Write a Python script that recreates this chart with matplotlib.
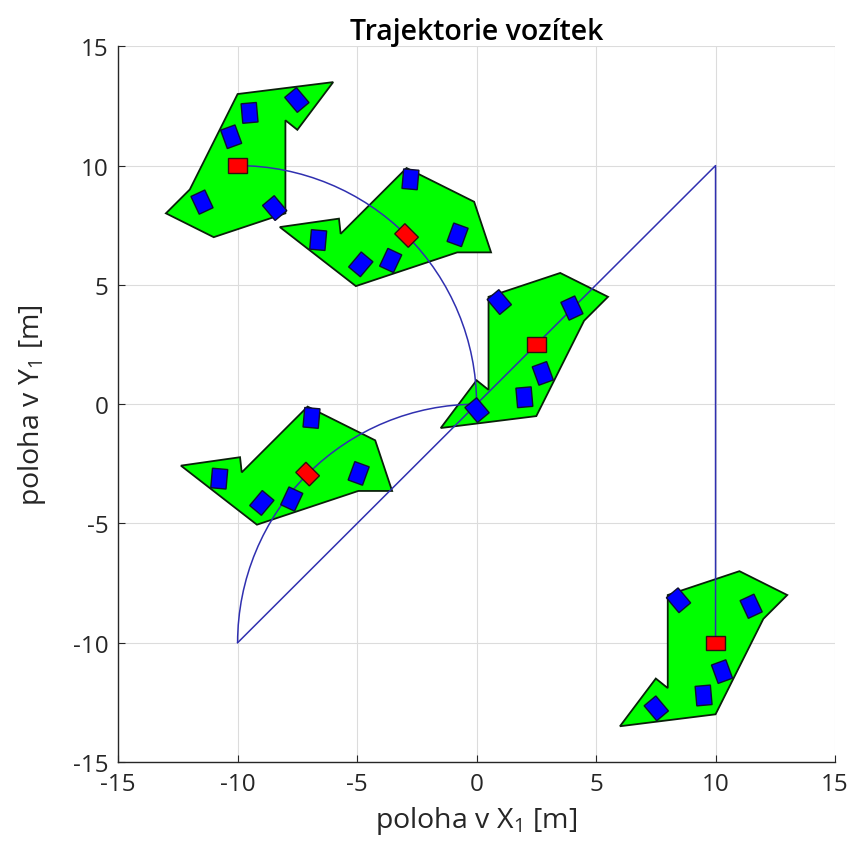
import numpy as np
import matplotlib.pyplot as plt
from matplotlib.patches import Polygon, Rectangle, Arc
from matplotlib.transforms import Affine2D

plt.rcParams['font.family'] = ['Open Sans', 'DejaVu Sans']
plt.rcParams['axes.unicode_minus'] = False
plt.rcParams['mathtext.default'] = 'regular'

# vehicle outline in its own frame [m]
body_x = [-2.0, 1.0, 3.0, 2.0, 0.0, -4.0, -2.5, -2.0]
body_y = [2.0, 3.0, 2.0, 1.0, -3.0, -3.5, -1.5, -1.9]

# wheels in vehicle frame + their own turn [deg]
wheel_x = [-1.55, 1.49, 0.27, -0.5, -2.48]
wheel_y = [1.78, 1.53, -1.21, -2.21, -2.75]
wheel_ang = [40, 25, 20, 5, 40]

# drawn poses
pose_x = [-10.0, -2.93, 2.5, -7.07, 10.0]
pose_y = [10.0, 7.07, 2.5, -2.93, -10.0]
pose_ang = [180, -45, 0, -45, 0]

# trajectory: straight part and two quarter circles
path_x = [-10, 10, 10]
path_y = [-10, 10, -10]
arc_cx = [-10, 0]
arc_cy = [0, -10]
arc_r = [10, 10]
arc_from = [0, 90]
arc_to = [90, 180]

ticks = [-15, -10, -5, 0, 5, 10, 15]
tick_labels = ['-15', '-10', '-5', '0', '5', '10', '15']

fig = plt.figure(figsize=(8.56, 8.45), dpi=100)
ax = fig.add_axes([0.138, 0.097, 0.8375, 0.847])

line_col = '#3030b0'
ax.plot(path_x, path_y, color=line_col, lw=1.1, zorder=3)
for cx, cy, r, t1, t2 in zip(arc_cx, arc_cy, arc_r, arc_from, arc_to):
    ax.add_patch(Arc((cx, cy), 2 * r, 2 * r, theta1=t1, theta2=t2,
                     color=line_col, lw=1.1, zorder=3))

ww, wh = 0.64, 0.82  # wheel size
cw, ch = 0.8, 0.6    # centre marker size
for px, py, pa in zip(pose_x, pose_y, pose_ang):
    tr = Affine2D().rotate_deg(pa).translate(px, py) + ax.transData
    ax.add_patch(Polygon(np.column_stack([body_x, body_y]), closed=True,
                         facecolor='#00ff00', edgecolor='#0a200a', lw=1.3,
                         transform=tr, zorder=2))
    for wx, wy, wa in zip(wheel_x, wheel_y, wheel_ang):
        ax.add_patch(Rectangle((wx - ww / 2, wy - wh / 2), ww, wh, angle=wa,
                               rotation_point='center', facecolor='#0000ff',
                               edgecolor='#101030', lw=1.0, transform=tr, zorder=4))
    ax.add_patch(Rectangle((-cw / 2, -ch / 2), cw, ch, facecolor='#ff0000',
                           edgecolor='#301010', lw=1.0, transform=tr, zorder=4))

ax.set_xlim(-15, 15)
ax.set_ylim(-15, 15)
ax.set_xticks(ticks)
ax.set_xticklabels(tick_labels)
ax.set_yticks(ticks)
ax.set_yticklabels(tick_labels)
ax.tick_params(direction='in', length=5, width=0.8, labelsize=17.5, pad=7,
               colors='#262626', labelcolor='#262626')
ax.grid(True, color='#dcdcdc', lw=0.8)
ax.set_axisbelow(True)
for s in ['top', 'right']:
    ax.spines[s].set_visible(False)
for s in ['left', 'bottom']:
    ax.spines[s].set_color('#262626')
    ax.spines[s].set_linewidth(1.0)

ax.set_title('Trajektorie vozítek', fontsize=20.5, fontweight=600, pad=4)
ax.set_xlabel('poloha v X$_1$ [m]', fontsize=20.5, labelpad=6, color='#262626')
ax.set_ylabel('poloha v Y$_1$ [m]', fontsize=20.5, labelpad=18, color='#262626')

plt.savefig('out.png', dpi=100)
